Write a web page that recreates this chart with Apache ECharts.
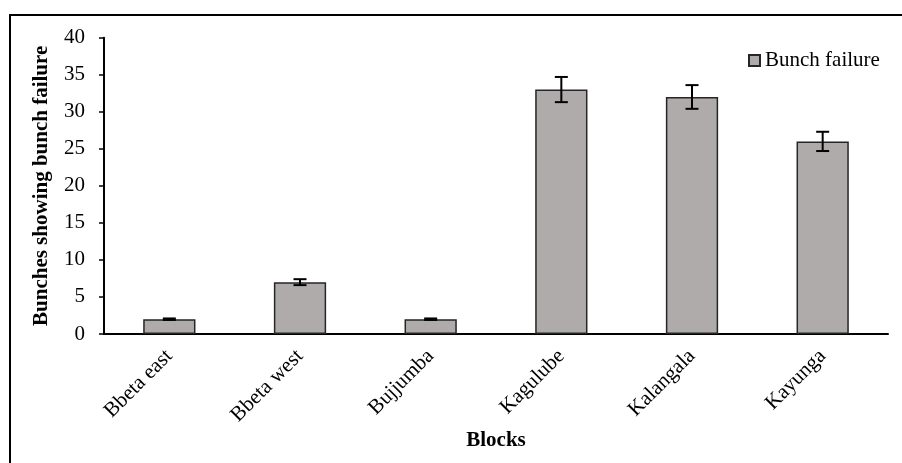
<!DOCTYPE html>
<html>
<head>
<meta charset="utf-8">
<script src="https://cdn.jsdelivr.net/npm/echarts@6/dist/echarts.min.js"></script>
<style>
html,body{margin:0;padding:0;background:#fff;}
#c{width:902px;height:463px;}
</style>
</head>
<body>
<div id="c"></div>
<script>
var categories = ['Bbeta east', 'Bbeta west', 'Bujjumba', 'Kagulube', 'Kalangala', 'Kayunga'];
var bunchFailure = [2, 7, 2, 33, 32, 26];
var errorMargin = [0.1, 0.4, 0.1, 1.7, 1.6, 1.3];
var yTicks = [0, 5, 10, 15, 20, 25, 30, 35, 40];

var errData = categories.map(function (c, i) {
  return [i, bunchFailure[i] - errorMargin[i], bunchFailure[i] + errorMargin[i]];
});

var chart = echarts.init(document.getElementById('c'));
var font = '"Liberation Serif", "Times New Roman", serif';
chart.setOption({
  animation: false,
  textStyle: { fontFamily: font },
  grid: { left: 104, right: 14, top: 37.7, bottom: 129 },
  legend: {
    data: [{ name: 'Bunch failure', icon: 'rect' }],
    left: 743, top: 45,
    itemWidth: 11, itemHeight: 11, itemGap: 4,
    textStyle: { fontFamily: font, fontSize: 21, color: '#000' }
  },
  xAxis: {
    type: 'category',
    data: categories,
    axisLine: { lineStyle: { color: '#000', width: 2 } },
    axisTick: { show: false },
    axisLabel: { rotate: 45, fontSize: 21, color: '#000', fontFamily: font, margin: 19, padding: [8, 0, 0, 0] }
  },
  yAxis: {
    type: 'value',
    min: 0, max: 40, interval: 5,
    name: 'Bunches showing bunch failure',
    nameLocation: 'middle',
    nameGap: 52,
    nameTextStyle: { fontFamily: font, fontSize: 21, fontWeight: 'bold', color: '#000' },
    axisLine: { show: true, lineStyle: { color: '#000', width: 2 } },
    axisTick: { show: true, length: 5, lineStyle: { color: '#000', width: 1.5 } },
    splitLine: { show: false },
    axisLabel: {
      fontSize: 21, color: '#000', fontFamily: font, margin: 19,
      formatter: function (v) { return yTicks.indexOf(v) >= 0 ? String(v) : ''; }
    }
  },
  graphic: [
    { type: 'rect', shape: { x: 10, y: 15, width: 920, height: 480 }, style: { fill: 'none', stroke: '#000', lineWidth: 2 }, silent: true },
    { type: 'text', x: 496, y: 441, style: { text: 'Blocks', font: 'bold 21px ' + font, fill: '#000', align: 'center', verticalAlign: 'middle' } }
  ],
  series: [
    {
      name: 'Bunch failure',
      type: 'bar',
      data: bunchFailure,
      barWidth: '40%',
      itemStyle: { color: '#AFABAB', borderColor: '#262626', borderWidth: 1.5 }
    },
    {
      type: 'custom',
      name: 'err',
      data: errData,
      z: 10,
      renderItem: function (params, api) {
        var x = api.value(0);
        var lo = api.coord([x, api.value(1)]);
        var hi = api.coord([x, api.value(2)]);
        var hw = 6.5;
        var st = { stroke: '#000', lineWidth: 2 };
        return {
          type: 'group',
          children: [
            { type: 'line', shape: { x1: lo[0], y1: lo[1], x2: hi[0], y2: hi[1] }, style: st },
            { type: 'line', shape: { x1: lo[0] - hw, y1: lo[1], x2: lo[0] + hw, y2: lo[1] }, style: st },
            { type: 'line', shape: { x1: hi[0] - hw, y1: hi[1], x2: hi[0] + hw, y2: hi[1] }, style: st }
          ]
        };
      }
    }
  ]
});
</script>
</body>
</html>
